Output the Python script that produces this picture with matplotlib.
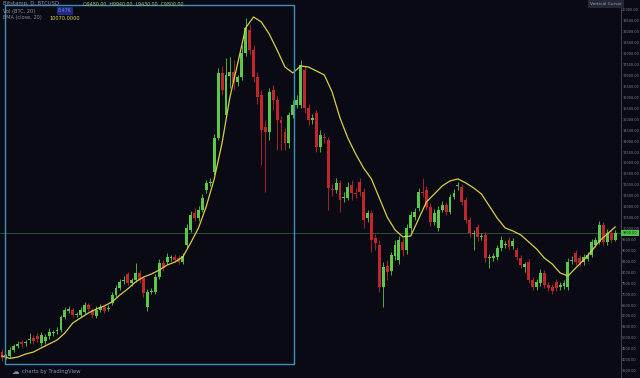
# BTC/USD daily candles with a moving average line, dark TradingView style
import numpy as np
import matplotlib.pyplot as plt
from matplotlib.patches import Rectangle

# candle data, one entry per day
opens = [4350, 4120, 4170, 4440, 4630, 4810, 4770, 4900, 4990, 5090,
         4770, 4860, 5090, 5220, 5310, 5360, 5950, 6230, 6280, 6050,
         6050, 6180, 6500, 6280, 6000, 6280, 6410, 6320, 6600, 6960,
         7280, 7600, 7920, 7510, 7650, 7970, 7740, 6410, 7100, 7100,
         7780, 8430, 8470, 8650, 8700, 8650, 8470, 9250, 9940, 10710,
         10480, 10850, 11770, 12090, 12590, 14140, 17120, 15200, 16980, 17160,
         16710, 16930, 18030, 19090, 18170, 16930, 16110, 14650, 14420, 16340,
         15880, 14970, 14420, 13920, 15200, 15650, 15650, 17260, 15520, 14970,
         15290, 13730, 14190, 14050, 11810, 11770, 12090, 11400, 11400, 11990,
         11630, 12130, 11670, 10480, 10710, 9570, 9250, 7330, 8290, 8060,
         8750, 8560, 9390, 9020, 10030, 10530, 10940, 11670, 11770, 10990,
         10300, 10030, 10850, 11080, 10760, 11440, 11950, 11900, 11310, 10390,
         9750, 10070, 9620, 9710, 8650, 8650, 8700, 9110, 9250, 9480,
         9200, 9020, 8650, 8240, 8470, 7650, 7330, 7510, 7970, 7420,
         7330, 7560, 7330, 7370, 7330, 8520, 8880, 8650, 8470, 8610,
         8790, 9250, 9390, 10160, 9390, 9800, 9480]
highs = [4490, 4260, 4580, 4720, 4860, 4900, 4900, 5220, 5130, 5220,
         5270, 5180, 5450, 5360, 5500, 6050, 6410, 6460, 6370, 6180,
         6410, 6640, 6600, 6370, 6460, 6550, 6500, 6500, 7100, 7420,
         7690, 7830, 8010, 7740, 8430, 8100, 7830, 7240, 7280, 7920,
         8610, 8560, 8880, 8790, 8840, 8790, 8880, 10210, 10800, 10940,
         11030, 11580, 12220, 12310, 14330, 17350, 17440, 17800, 17850, 17710,
         17030, 18400, 19630, 19360, 18400, 17160, 16340, 14970, 16430, 16570,
         16070, 15150, 14600, 15330, 15880, 16110, 17710, 17440, 15700, 15240,
         15430, 14510, 14370, 14190, 12040, 12310, 12220, 11670, 12130, 12220,
         11860, 12310, 11860, 10850, 10850, 9750, 9480, 8470, 8560, 8930,
         9480, 9660, 9570, 10210, 10800, 10940, 11860, 12310, 11950, 11170,
         10900, 11030, 11260, 11220, 11580, 11810, 12130, 12040, 11440, 10530,
         9940, 10210, 9800, 9840, 8840, 8880, 9250, 9660, 9430, 9620,
         9570, 9160, 8790, 8470, 8610, 7780, 7690, 8150, 8100, 7560,
         7460, 7690, 7560, 7650, 8650, 8750, 9020, 8790, 8840, 8930,
         9520, 9620, 10350, 10300, 9980, 9940, 9940]
lows = [3940, 4030, 4080, 4350, 4540, 4580, 4630, 4770, 4720, 4810,
        4630, 4720, 4950, 5090, 5180, 5270, 5860, 6140, 5950, 5950,
        5950, 6090, 6230, 5910, 5910, 6180, 6140, 6230, 6500, 6870,
        7190, 7460, 7420, 7370, 7560, 7510, 6870, 6230, 7010, 7010,
        7690, 8060, 8380, 8520, 8470, 8380, 8380, 9110, 9840, 10350,
        10350, 10760, 11630, 11950, 12450, 14050, 16110, 15060, 16430, 16340,
        16520, 16800, 17900, 17940, 16710, 15700, 12910, 11670, 14050, 15430,
        13600, 13600, 13600, 13690, 15060, 15520, 15520, 15290, 14740, 14780,
        13500, 13500, 13920, 10850, 11490, 11630, 10760, 11220, 11310, 11310,
        11400, 11490, 10030, 10300, 8930, 9020, 7100, 6410, 7650, 7880,
        8560, 8380, 8750, 8840, 9840, 10390, 10800, 11440, 10850, 10120,
        10160, 9890, 10760, 10620, 10670, 11350, 11770, 11080, 10260, 9620,
        9020, 9430, 9480, 8470, 8200, 8520, 8560, 8970, 9110, 9020,
        9070, 8560, 8200, 8010, 7510, 7190, 7190, 7370, 7280, 7140,
        7010, 7140, 7190, 7240, 7190, 8380, 8330, 8290, 8330, 8520,
        8700, 9160, 9300, 9250, 9250, 9340, 9430]
closes = [4080, 4220, 4440, 4630, 4720, 4720, 4810, 4950, 4860, 4950,
          5130, 5040, 5270, 5270, 5360, 5950, 6280, 6320, 6050, 6090,
          6280, 6500, 6320, 6050, 6280, 6410, 6230, 6370, 6960, 7280,
          7560, 7650, 7510, 7650, 7970, 7650, 7050, 7100, 7140, 7780,
          8430, 8200, 8700, 8700, 8560, 8470, 8750, 10030, 10620, 10480,
          10850, 11400, 12090, 12130, 14140, 17120, 16340, 17030, 17160, 16710,
          16930, 18030, 19180, 18170, 16930, 16020, 14510, 14420, 16250, 15880,
          14970, 14830, 13920, 15200, 15650, 15880, 17480, 15520, 14970, 15060,
          13730, 14280, 14140, 11860, 11770, 12090, 11310, 11440, 11900, 11630,
          11580, 11670, 10390, 10710, 9480, 9340, 7330, 8240, 8010, 8790,
          9250, 9480, 9020, 10030, 10620, 10760, 11670, 11630, 10990, 10300,
          10710, 10850, 11080, 10760, 11440, 11630, 11990, 11220, 10390, 9800,
          9800, 9620, 9660, 8650, 8700, 8750, 9110, 9480, 9300, 9160,
          9430, 8700, 8330, 8380, 7650, 7330, 7560, 7970, 7420, 7280,
          7140, 7280, 7420, 7510, 8470, 8560, 8470, 8430, 8700, 8790,
          9390, 9480, 10160, 9390, 9800, 9480, 9800]

# the yellow moving average, read every second candle
ma_days = list(range(0, 157, 2))
ma_values = [4170, 4060, 4120, 4260, 4350, 4540, 4720, 4900, 5220, 5680,
             5910, 6140, 6320, 6460, 6640, 6960, 7240, 7560, 7780, 7920,
             8100, 8330, 8470, 8700, 9340, 10030, 11030, 12270, 13920, 16020,
             17580, 19180, 19680, 19450, 18900, 18170, 17390, 17120, 17440, 17390,
             17210, 17030, 16250, 15060, 14140, 13410, 12770, 12270, 11400, 10530,
             9940, 9620, 9660, 10440, 11220, 11580, 11950, 12180, 12270, 12090,
             11860, 11580, 11030, 10480, 10030, 9890, 9710, 9390, 9070, 8650,
             8380, 7970, 7830, 8200, 8560, 8970, 9430, 9750, 10070]

# price axis labels
price_ticks = np.arange(3500, 20001, 500)

# the blue rectangle drawn on the chart (day index / price)
box_days = (0.76, 74.3)
box_prices = (3800, 20230)

bg = '#0a0a14'
up = '#5cc84a'
down = '#c0262c'

fig = plt.figure(figsize=(6.4, 3.78), dpi=100, facecolor=bg)
ax = fig.add_axes([0, 0, 621 / 640, 1])
ax.set_facecolor(bg)

o = np.array(opens)
c = np.array(closes)
days = np.arange(len(o))
colors = [up if cc >= oo else down for oo, cc in zip(o, c)]

# wicks and bodies
ax.vlines(days, lows, highs, colors=colors, linewidth=0.6, zorder=2)
body = np.maximum(np.abs(c - o), 30)
ax.bar(days, body, bottom=np.minimum(o, c), width=0.74, color=colors,
       linewidth=0, zorder=3)

ax.plot(ma_days, ma_values, color='#d8cf45', linewidth=0.9, zorder=4)

# last price line and label
ax.axhline(closes[-1], color='#2d5a36', linewidth=0.6, zorder=1)
ax.annotate(f'{closes[-1]:.2f}', xy=(1.0, closes[-1]),
            xycoords=('axes fraction', 'data'), xytext=(1.2, 0),
            textcoords='offset points', va='center', ha='left',
            fontsize=2.5, color='#0a2a0a',
            bbox=dict(boxstyle='square,pad=0.4', facecolor='#4fc247',
                      edgecolor='none'), annotation_clip=False)

ax.add_patch(Rectangle((box_days[0], box_prices[0]), box_days[1] - box_days[0],
                       box_prices[1] - box_prices[0], fill=False,
                       edgecolor='#3f8fb8', linewidth=1.0, zorder=5))

ax.set_xlim(-0.51, 157.5)
ax.set_ylim(3163, 20457)
ax.set_xticks([])
ax.yaxis.tick_right()
ax.set_yticks(price_ticks)
ax.set_yticklabels([f'{v:.2f}' for v in price_ticks])
ax.tick_params(axis='y', length=0, pad=0.8, labelsize=2.5, labelcolor='#7a7f8e')
for side in ['top', 'left', 'bottom']:
    ax.spines[side].set_visible(False)
ax.spines['right'].set_color('#3c404c')
ax.spines['right'].set_linewidth(0.8)

# header legend texts
def px(x, y):
    return x / 640, 1 - y / 378

fig.text(*px(3, 4), 'Bitstamp, D, BTCUSD', fontsize=3.8, color='#8a8f9e', va='center')
fig.text(*px(83, 4),
         f'O{opens[-1]:.2f}  H{highs[-1]:.2f}  L{lows[-1]:.2f}  C{closes[-1]:.2f}',
         fontsize=3.4, color='#9fc25a', va='center')
fig.text(*px(3, 11), 'Vol (BTC, 20)', fontsize=3.6, color='#8a8f9e', va='center')
fig.text(*px(58, 11), '8.47K', fontsize=3.4, color='#6f82d8', va='center',
         bbox=dict(boxstyle='square,pad=0.3', facecolor='#1d2a86', edgecolor='none'))
fig.text(*px(3, 18), 'EMA (close, 20)', fontsize=3.6, color='#8a8f9e', va='center')
fig.text(*px(50, 18), f'{ma_values[-1]:.4f}', fontsize=3.6, color='#e0d84a', va='center')

fig.text(*px(590, 4), 'Vertical Cursor', fontsize=3.2, color='#9da2b0', va='center',
         bbox=dict(boxstyle='square,pad=0.4', facecolor='#252836', edgecolor='none'))

# footer
fig.text(*px(12, 372), '\u2601', fontsize=5.5, color='#5d8fc4', va='center')
fig.text(*px(22, 372), 'charts by TradingView', fontsize=3.8, color='#7f98bb', va='center')

fig.savefig('out.png', dpi=100, facecolor=bg)
